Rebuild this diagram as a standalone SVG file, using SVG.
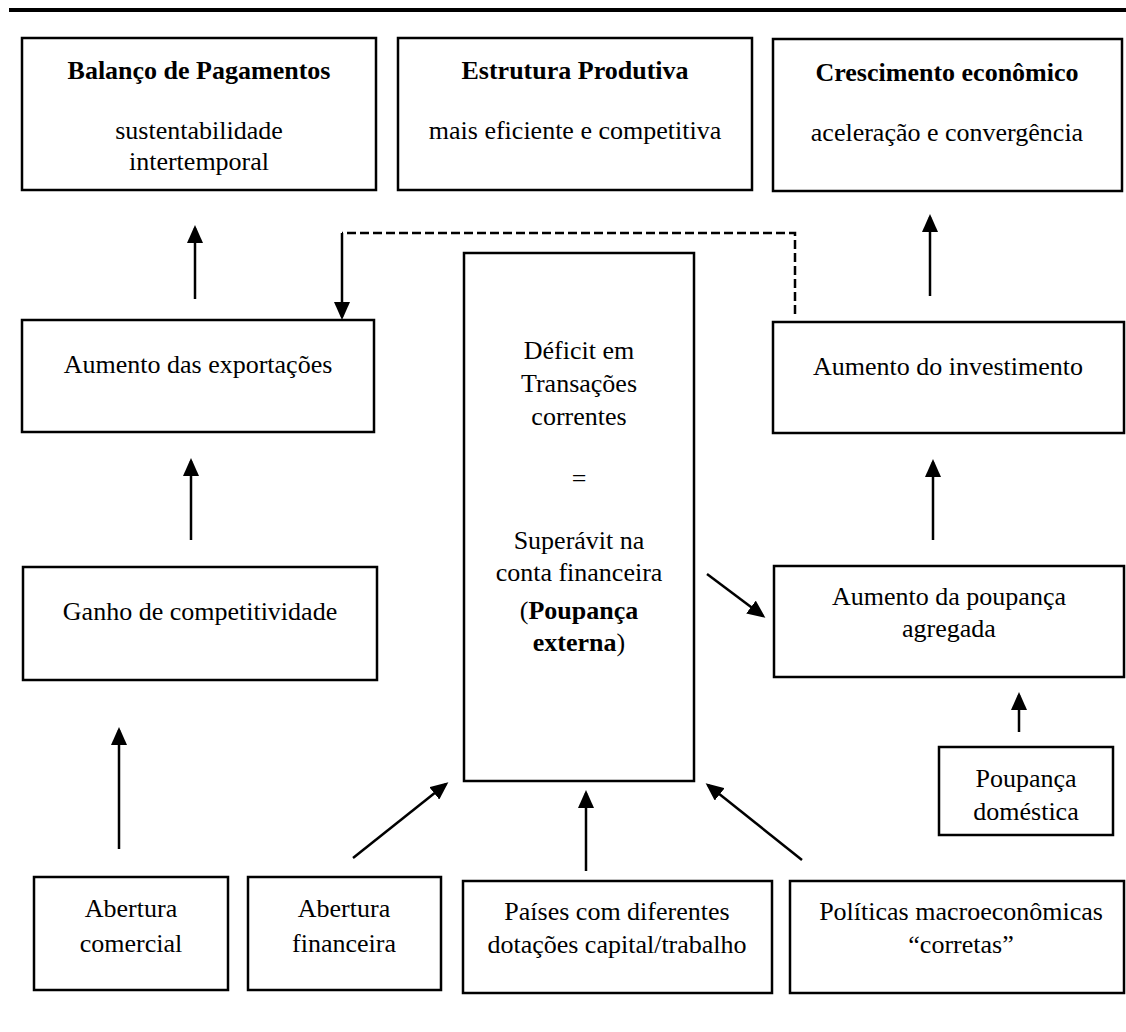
<svg xmlns="http://www.w3.org/2000/svg" width="1126" height="1032" viewBox="0 0 1126 1032">
<style>
.box{fill:#fff;stroke:#000;stroke-width:2.5}
.t{font-family:"Liberation Serif","Times New Roman",serif;font-size:26px;fill:#000;text-anchor:middle}
.b{font-weight:bold}
.c{stroke:#000;stroke-width:2.5;fill:none}
.d{stroke-dasharray:9,4}
</style>
<defs>
<marker id="ah" markerUnits="userSpaceOnUse" markerWidth="18" markerHeight="16" viewBox="0 0 18 16" refX="15" refY="8" orient="auto">
<path d="M0,0 L18,8 L0,16 z" fill="#000"/>
</marker>
</defs>
<rect x="9" y="8" width="1117" height="4" fill="#000"/>
<g id="balanco">
<rect class="box" x="22" y="38" width="354" height="152"/>
<text class="t b" x="199" y="79">Balanço de Pagamentos</text>
<text class="t" x="199" y="139">sustentabilidade</text>
<text class="t" x="199" y="170">intertemporal</text>
</g>
<g id="estrutura">
<rect class="box" x="398" y="38" width="354" height="152"/>
<text class="t b" x="575" y="79">Estrutura Produtiva</text>
<text class="t" x="575" y="139">mais eficiente e competitiva</text>
</g>
<g id="crescimento">
<rect class="box" x="773" y="39" width="349" height="152"/>
<text class="t b" x="947" y="81">Crescimento econômico</text>
<text class="t" x="947" y="141">aceleração e convergência</text>
</g>
<g id="exportacoes">
<rect class="box" x="22" y="320" width="352" height="112"/>
<text class="t" x="198" y="373">Aumento das exportações</text>
</g>
<g id="deficit">
<rect class="box" x="464" y="253" width="230" height="528"/>
<text class="t" x="579" y="359">Déficit em</text>
<text class="t" x="579" y="392">Transações</text>
<text class="t" x="579" y="425">correntes</text>
<text class="t" x="579" y="487">=</text>
<text class="t" x="579" y="549">Superávit na</text>
<text class="t" x="579" y="581">conta financeira</text>
<text class="t" x="579" y="619">(<tspan class="b">Poupança</tspan></text>
<text class="t" x="579" y="651"><tspan class="b">externa</tspan>)</text>
</g>
<g id="investimento">
<rect class="box" x="773" y="322" width="351" height="111"/>
<text class="t" x="948" y="375">Aumento do investimento</text>
</g>
<g id="ganho">
<rect class="box" x="23" y="567" width="354" height="113"/>
<text class="t" x="200" y="620">Ganho de competitividade</text>
</g>
<g id="poupanca-agregada">
<rect class="box" x="774" y="566" width="350" height="111"/>
<text class="t" x="949" y="605">Aumento da poupança</text>
<text class="t" x="949" y="637">agregada</text>
</g>
<g id="poupanca-domestica">
<rect class="box" x="939" y="747" width="174" height="88"/>
<text class="t" x="1026" y="787">Poupança</text>
<text class="t" x="1026" y="820">doméstica</text>
</g>
<g id="abertura-comercial">
<rect class="box" x="34" y="877" width="194" height="113"/>
<text class="t" x="131" y="917">Abertura</text>
<text class="t" x="131" y="952">comercial</text>
</g>
<g id="abertura-financeira">
<rect class="box" x="248" y="877" width="193" height="113"/>
<text class="t" x="344" y="917">Abertura</text>
<text class="t" x="344" y="952">financeira</text>
</g>
<g id="paises">
<rect class="box" x="463" y="881" width="309" height="112"/>
<text class="t" x="617" y="920">Países com diferentes</text>
<text class="t" x="617" y="953">dotações capital/trabalho</text>
</g>
<g id="politicas">
<rect class="box" x="790" y="881" width="334" height="112"/>
<text class="t" x="961" y="920">Políticas macroeconômicas</text>
<text class="t" x="961" y="953">“corretas”</text>
</g>
<g id="connectors">
<line class="c" x1="195" y1="299" x2="195" y2="228" marker-end="url(#ah)"/>
<line class="c" x1="191" y1="540" x2="191" y2="461" marker-end="url(#ah)"/>
<line class="c" x1="119" y1="849" x2="119" y2="730" marker-end="url(#ah)"/>
<polyline class="c d" points="795,314 795,233 342,233"/>
<line class="c" x1="342" y1="233" x2="342" y2="317" marker-end="url(#ah)"/>
<line class="c" x1="930" y1="296" x2="930" y2="217" marker-end="url(#ah)"/>
<line class="c" x1="933" y1="540" x2="933" y2="462" marker-end="url(#ah)"/>
<line class="c" x1="707" y1="574" x2="763" y2="616" marker-end="url(#ah)"/>
<line class="c" x1="1019" y1="732" x2="1019" y2="695" marker-end="url(#ah)"/>
<line class="c" x1="353" y1="858" x2="446" y2="784" marker-end="url(#ah)"/>
<line class="c" x1="586" y1="871" x2="586" y2="793" marker-end="url(#ah)"/>
<line class="c" x1="802" y1="860" x2="708" y2="785" marker-end="url(#ah)"/>
</g>
</svg>
